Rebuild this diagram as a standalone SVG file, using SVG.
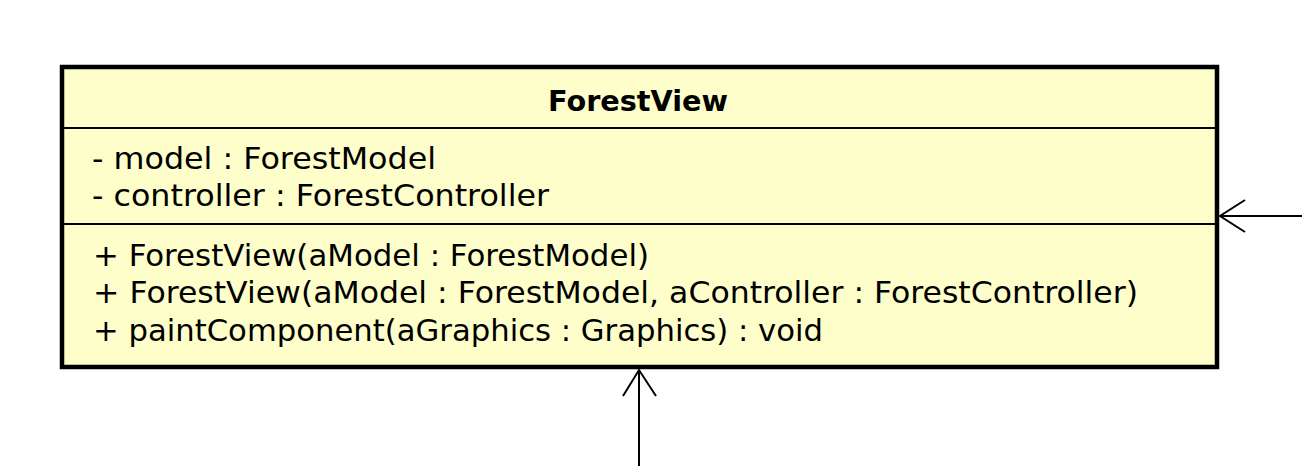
<svg xmlns="http://www.w3.org/2000/svg" width="1302" height="466" viewBox="0 0 1302 466">
<style>
.box{fill:#fefecb;stroke:#000;stroke-width:4.5}
.div{stroke:#000;stroke-width:2}
.t{font-family:"DejaVu Sans",sans-serif;font-size:30px;fill:#000}
.title{font-family:"DejaVu Sans",sans-serif;font-size:29px;font-weight:bold;fill:#000;text-anchor:middle}
.edge{stroke:#000;stroke-width:2;fill:none}
</style>
<rect width="1302" height="466" fill="#fff"/>
<g id="ForestView">
<rect class="box" x="62" y="67" width="1155" height="300"/>
<line class="div" x1="62" y1="128" x2="1217" y2="128"/>
<line class="div" x1="62" y1="224" x2="1217" y2="224"/>
<text class="title" x="638" y="111" textLength="180" lengthAdjust="spacingAndGlyphs">ForestView</text>
<text class="t" x="92" y="169" textLength="344" lengthAdjust="spacingAndGlyphs">- model : ForestModel</text>
<text class="t" x="92" y="206" textLength="457" lengthAdjust="spacingAndGlyphs">- controller : ForestController</text>
<text class="t" x="93" y="266" textLength="556" lengthAdjust="spacingAndGlyphs">+ ForestView(aModel : ForestModel)</text>
<text class="t" x="93" y="303" textLength="1045" lengthAdjust="spacingAndGlyphs">+ ForestView(aModel : ForestModel, aController : ForestController)</text>
<text class="t" x="93" y="341" textLength="730" lengthAdjust="spacingAndGlyphs">+ paintComponent(aGraphics : Graphics) : void</text>
</g>
<g id="connectors">
<path class="edge" d="M1302 216 L1220 216"/>
<path class="edge" d="M1245 200 L1220 216 L1245 232"/>
<path class="edge" d="M639 466 L639 370"/>
<path class="edge" d="M623 396 L639 370 L656 396"/>
</g>
</svg>
